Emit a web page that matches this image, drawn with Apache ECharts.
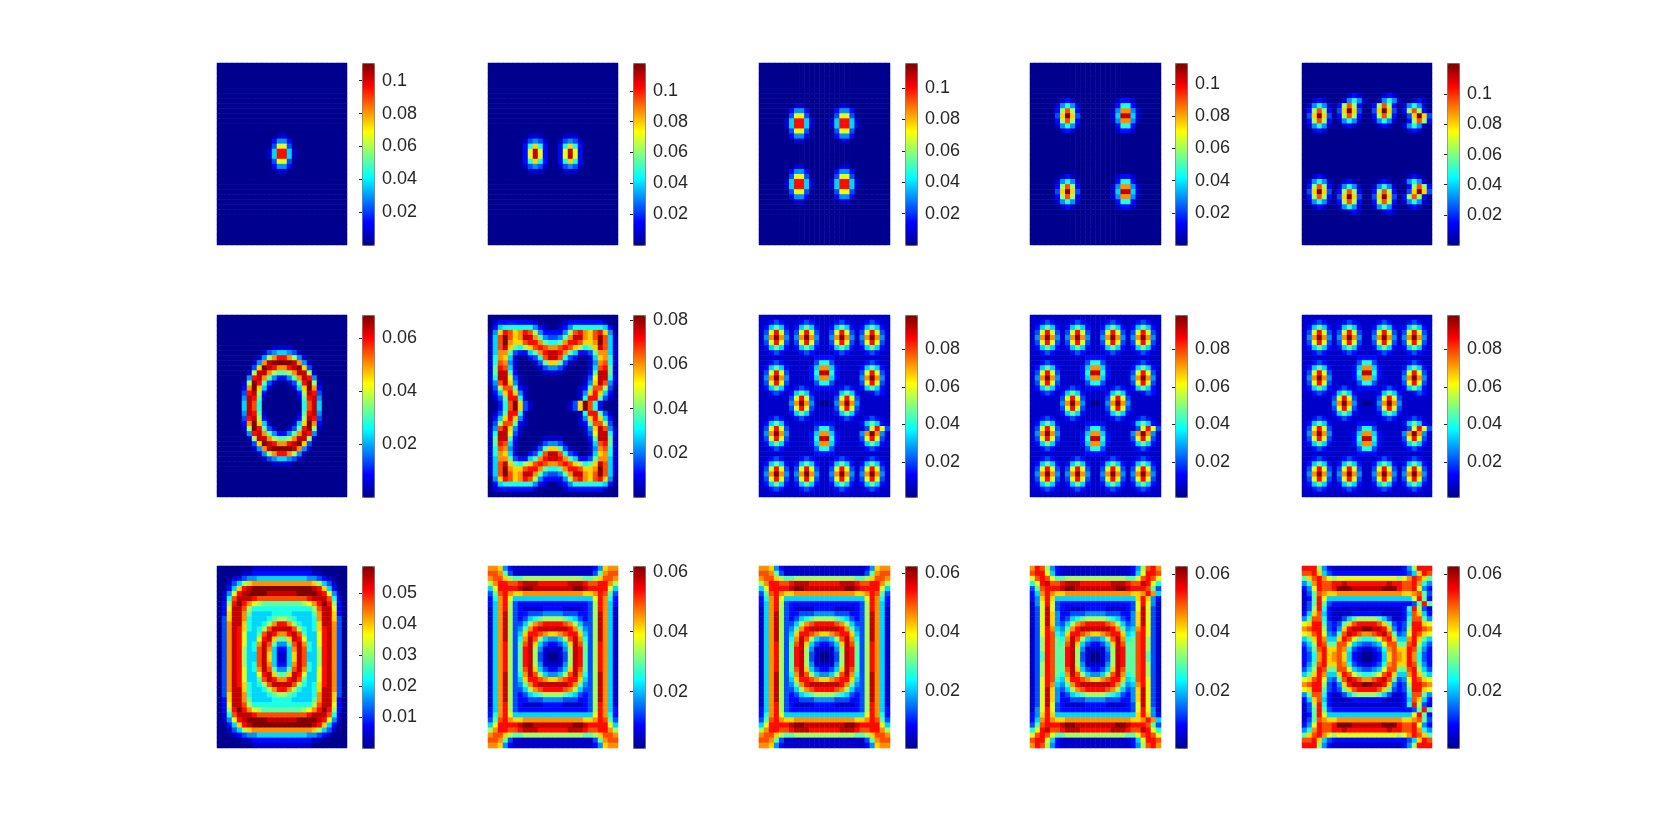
<!DOCTYPE html>
<html>
<head>
<meta charset="utf-8">
<title>Density panels</title>
<style>
  html, body { margin: 0; padding: 0; background: #fff; }
  #chart { width: 1666px; height: 840px; }
</style>
<script src="https://cdn.jsdelivr.net/npm/echarts@6/dist/echarts.min.js"></script>
</head>
<body>
<div id="chart"></div>
<script>
// every row is one line of cells, 26 cells x 36 rows.
// each character is a hex level, 0 = bottom of the panel's colorbar, f = top.
// cells missing at the end of a row are level 0.
const p11 = ['','','','','','','','','','','','','','',
  '0000000000001100','0000000000024420','0000000000039930','0000000000015dd51'.slice(1),'000000000015dd51','0000000000039930','0000000000024420','0000000000001100',
  '','','','','','','','','','','','','',''];
const p12 = ['','','','','','','','','','','','','','',
  '000000001110000111'.slice(0, 7) + '01110' + '00' + '01110',
  '0000000134310013431','0000000026a62'.slice(1) + '0026a62','000000029e920029e92','000000029e920029e92','000000026a620026a62','0000000134310013431','0000000011100001110',
  '','','','','','','','','','','','','',''];
const p13 = ['','','','','','','','',
  '00000001100000001100','00000024420000024420','00000039930000039930','0000015dd5100015dd51','0000015dd5100015dd51','00000039930000039930','00000024420000024420','00000001100000001100',
  '','','','',
  '00000001100000001100','00000024420000024420','00000039930000039930','0000015dd5100015dd51','0000015dd5100015dd51','00000039930000039930','00000024420000024420','00000001100000001100',
  '','','','','','','',''];
const p14 = ['','','','','','','',
  '0000001210000000012210','0000014641000000026620','0000028c8200000014bb41','000003afa300000015ee51','0000028c8200000014bb41','0000014641000000026620','0000001210000000012210',
  '','','','','','','','',
  '0000001210000000012210','0000014641000000026620','0000028c8200000014bb41','000003afa300000015ee51','0000028c8200000014bb41','0000014641000000026620','0000001210000000012210',
  '','','','','','',''];
const p15 = ['','','','','','',
  '0000000001210000121',
  '00121000146410014641001210'.slice(0, 26),
  '01464102 8c820028c820146410'.replace(' ', '').slice(0, 26),
  '028c8203afa3003afa3028c820',
  '03afa3028c820028c82003afa3',
  '028c8201464100146410028c82',
  '0146410012100001210014641',
  '0012100000000000000001210',
  '','','','','','','','',
  '0012100000000000000001210',
  '0146410012100001210014641',
  '028c8201464100146410028c82',
  '03afa3028c820028c82003afa3',
  '028c8203afa3003afa3028c820',
  '01464102 8c820028c820146410'.replace(' ', '').slice(0, 26),
  '0012100146410014641001210',
  '0000000001210000121',
  '','','','','',''];
const p21 = ['','','','','','',
  '000000000001111',
  '00000000013455431',
  '00000000148bddb841',
  '000000014beffffeb41',
  '00000003afedbbdefa3',
  '00000018eeb8778bee81',
  '0000004deb742247bed4',
  '0000018fd73100137df81',
  '000002bfa5100 0015afb2'.replace(' ', ''),
  '000003de8200000028ed3'.replace('8200000028', '82000' + '00028'),
  '000004ed71000000 17de4'.replace(' ', ''),
  '000005ec600000000 6ce5'.replace(' ', ''),
  '000005ec600000000 6ce5'.replace(' ', ''),
  '000004ed71000000 17de4'.replace(' ', ''),
  '000003de8200000028ed3'.replace('8200000028', '82000' + '00028'),
  '000002bfa5100 0015afb2'.replace(' ', ''),
  '0000018fd73100137df81',
  '0000004deb742247bed4',
  '00000018eeb8778bee81',
  '00000003afedbbdefa3',
  '000000014beffffeb41',
  '00000000148bddb841',
  '00000000013455431',
  '000000000001111',
  '','','','','',''];
const p22 = ['',
  '01222222210000012222222 10'.replace(' ', ''),
  '02566666642100124666666520',
  '04adcabdc84222248cdbacda40',
  '15cfcabeeb743347beebacfc51',
  '15cfbaacddb7667bddcaabfc51',
  '15cea768acdcbbcdca867aec51',
  '15bb732257bdeedb752237bb51',
  '16ba5100236ceec6320015ab61',
  '16cb41000137aa73100014bc61',
  '17dc510000134431000015cd71',
  '17ee720000011110000027ee71',
  '16ee931000000000000139ee61',
  '14cea4100000000000014aec41',
  '038cc7210000000000127cc830',
  '025ada410000000000014ada520'.slice(0, 13) + '0000014ada520',
  '0137dd61000000000016dd7310',
  '0026cfa31000000013afc62 00'.replace(' ', ''),
  '0026cfa31000000013afc62 00'.replace(' ', ''),
  '0137dd61000000000016dd7310',
  '025ada410000000000014ada520'.slice(0, 13) + '0000014ada520',
  '038cc7210000000000127cc830',
  '14cea4100000000000014aec41',
  '16ee931000000000000139ee61',
  '17ee720000011110000027ee71',
  '17dc510000134431000015cd71',
  '16cb41000137aa73100014bc61',
  '16ba5100236ceec6320015ab61',
  '15bb732257bdeedb752237bb51',
  '15cea768acdcbbcdca867aec51',
  '15cfbaacddb7667bddcaabfc51',
  '15cfcabeeb743347beebacfc51',
  '04adcabdc84222248cdbacda40',
  '02566666642100124666666520',
  '01222222210000012222222 10'.replace(' ', ''),
  ''];
const p23 = [
  '11111111111111111111111111',
  '11232111232111123211123211',
  '12575212575211257521257521',
  '139d93139d931139d93139d931',
  '14bfb414bfb4114bfb414bfb41'.replace('14bfb414bfb4114bfb414bfb41', '14bfb414bfb41' + '14bfb414bfb41'),
  '139d93139d931139d93139d931',
  '12575212575211257521257521',
  '11232111232111123211123211',
  '11111111111222211111111111',
  '11232111111366311111123211',
  '12575211112 5bb5211112 57521'.replace(/ /g, '').slice(0, 26),
  '139d9311112 6ee6211113 9d931'.replace(/ /g, '').slice(0, 26),
  '14bfb411112 5bb5211114 bfb41'.replace(/ /g, '').slice(0, 26),
  '139d9311111366311111 39d931'.replace(/ /g, '').slice(0, 26),
  '12575212321222212321257521',
  '11232125752111125752112321',
  '11111139d9311 1139d931111111'.replace(/ /g, '').slice(0, 26),
  '111111 4bfb41001 4bfb4111111'.replace(/ /g, '').slice(0, 26),
  '11111139d9311 1139d931111111'.replace(/ /g, '').slice(0, 26),
  '11111125752111125752111111',
  '11232112321111112321123211',
  '12575211111222211111257521',
  '139d9311111366311111139d93'.slice(0, 26),
  '14bfb41111 25bb521111 4bfb41'.replace(/ /g, '').slice(0, 26),
  '139d9311112 6ee6211113 9d931'.replace(/ /g, '').slice(0, 26),
  '12575211112 5bb5211112 57521'.replace(/ /g, '').slice(0, 26),
  '11232111111366311111123211',
  '11111111111222211111111111',
  '11232111232111123211123211',
  '12575212575211257521257521',
  '139d93139d931139d93139d931',
  '14bfb414bfb41' + '14bfb414bfb41',
  '139d93139d931139d93139d931',
  '12575212575211257521257521',
  '11232111232111123211123211',
  '11111111111111111111111111'];
const p24 = p23;
const p25 = p23;
const p31 = [
  '00000001111111111110000000','00000112222222222221100000','00012344555555555544321000','001358abbbbbbbbbbbba853100',
  '0025adeffffffffffffeda5200','0149deffffeeeeeeffffed9410','016ceeedccccccccccdeeec610','028dfdb987777777789bdfd820',
  '029eec86666666666668cee920','02aeeb75555666655557beea20','03aeeb65556788765556beea30','03beea65568bddb86556aeeb30',
  '03beda6568ceeeec8656adeb30','03bed9557cedbbdec7559deb30','03bed9559dea77aed9559deb30','03bed956bec7447ceb659deb30',
  '03bed856ceb5225bec658deb30','03bed855cea5115aec558deb30','03bed855cea5115aec558deb30','03bed856ceb5225bec658deb30',
  '03bed956bec7447ceb659deb30','03bed9559dea77aed9559deb30','03bed9557cedbbdec7559deb30','03beda6568ceeeec8656adeb30',
  '03beea65568bddb86556aeeb30','03aeeb65556788765556beea30','02aeeb75555666655557beea20','029eec86666666666668cee920',
  '028dfdb987777777789bdfd820','016ceeedccccccccccdeeec610','0149deffffeeeeeeffffed9410','0025adeffffffffffffeda5200',
  '001358abbbbbbbbbbbba853100','00012344555555555544321000','00000112222222222221100000','00000001111111111110000000'];
const p32 = [
  'bba42111111111111111124abb','ccb73111111111111111137bcc','bcca877888888888888778accb','8bddccdeeeddddddeeedccddb8',
  '59ddddeffeeeeeeeeffedddd95','37cdbaabbbbbbbbbbbbbaabdc73'.slice(0, 13) + 'bbbbbbaabdc73','26bd955555555555555559db62','25bd832222222222222238db52',
  '15bd832111122221111238db51','15be832233344443332238eb51','15be832356788887653238eb51','15be83358bcddddcb85338eb51',
  '15be8347bdeeeeedb7438eb51'.slice(0, 13) + 'eeedb7438eb51','15be835addcbaabcdda538eb51','15be836bec854458ceb638eb51','15bd837cea532235aec738db51',
  '15bd837de84111148ed738db51','15bd837de83100138ed738db51','15bd837de83100138ed738db51','15bd837de84111148ed738db51',
  '15bd837cea532235aec738db51','15be836bec854458ceb638eb51','15be835addcbaabcdda538eb51','15be8347bdeee' + 'eeedb7438eb51',
  '15be83358bcddddcb85338eb51','15be832356788887653238eb51','15be832233344443332238eb51','15bd832111122221111238db51',
  '25bd832222222222222238db52','26bd955555555555555559db62','37cdbaabbbbbb' + 'bbbbbbaabdc73','59ddddeffeeeeeeeeffedddd95',
  '8bddccdeeeddddddeeedccddb8','bcca877888888888888778accb','ccb73111111111111111137bcc','bba42111111111111111124abb'];
const p33 = p32;
const p34 = [
  'bdc84211111111111111248cdb','cdd95211111111111111259ddc','9cdc977888888888888779cdc9','69deccdeeeddddddeeedcced96',
  '37cdddeffeeeeeeeeffedddc73','25bdbaabbbbbbbbbbbbbaabdb52','24ada5555555555555555ada42','149d93222222222222239d941'.slice(0, 13) + '222222239d941',
  '139e932111122221111239e931','139ea4223334444333224ae931','139ea4235678888765324ae931','139ea4358bcddddcb8534ae931',
  '139db547bdeeeeeedb745bd931','139dc65addcbaabcdda56cd931','138dc76bec854458ceb67cd831','138dc77cea532235aec77cd831',
  '138dc77de84111148ed77cd831','137dc77de83100138ed77cd731','137dc77de83100138ed77cd731','138dc77de84111148ed77cd831',
  '138dc77cea532235aec77cd831','138dc76bec854458ceb67cd831','139dc65addcbaabcdda56cd931','139db547bdeeeeeedb745bd931',
  '139ea4358bcddddcb8534ae931','139ea4235678888765324ae931','139ea4223334444333224ae931','139e932111122221111239e931',
  '149d93222222222222 2239d941'.replace(' ', '').slice(0, 13) + '222222239d941','24ada5555555555555555ada42','25bdbaabbbbbbbbbbbbbaabdb52','37cdddeffeeeeeeeeffedddc73',
  '69deccdeeeddddddeeedcced96','9cdc977888888888888779cdc9','cdd95211111111111111259ddc','bdc84211111111111111248cdb'];
const p35 = [
  'ddd84211111111111111248ddd','ccda5322222222222222235adcc','7acdb9899999999999989bdca7','46bdccddeddddddddeddccdb64',
  '249dccdfffeeeeeefffdccd942','137cbaabbbbbbbbbbbbbaabc731','127d9555555555555555559d721','137d73222222222222222237d731',
  '138d621111111111111126d831','25ac521111222222111125ca52','47cc621135788887531126cc74','9add73237acddddca73237dda9',
  'bcdd8324adeeffeeda4238ddcb','9acd9437cedcbbcdec7349dca9','57adb55adc976679cda55bda75','358dc77cc95433459cc77cd853',
  '247cdaacb63211236bcaadc742','236bdabca52100125acbadb632','236bdabca52100125acbadb632','247cdaacb63211236bcaadc742',
  '358dc77cc95433459cc77cd853','57adb55adc976679cda55bda75','9acd9437cedcbbcdec7349dca9','bcdd8324adeeffeeda4238ddcb',
  '9add73237acddddca73237dda9','47cc621135788887531126cc74','25ac521111222222111125ca52','138d621111111111111126d831',
  '137d73222222222222222237d731','127d9555555555555555559d721','137cbaabbbbbbbbbbbbbaabc731','249dccdfffeeeeeefffdccd942',
  '46bdccddeddddddddeddccdb64','7acdb9899999999999989bdca7','ccda5322222222222222235adcc','ddd84211111111111111248ddd'];

const panels = [p11, p12, p13, p14, p15, p21, p22, p23, p24, p25, p31, p32, p33, p34, p35];

// colorbar ends and tick labels, panel by panel
const barMin = [0, 0, 0, 0, 0, 0, 0, 0.0012, 0.0012, 0.0012, 0, 0.0012, 0.0007, 0.0006, 0.0006];
const barMax = [0.1108, 0.118, 0.116, 0.113, 0.1208, 0.0686, 0.0823, 0.0984, 0.0984, 0.0984, 0.0589, 0.0619, 0.0625, 0.0627, 0.0627];
const barTicks = [
  [0.02, 0.04, 0.06, 0.08, 0.1], [0.02, 0.04, 0.06, 0.08, 0.1], [0.02, 0.04, 0.06, 0.08, 0.1], [0.02, 0.04, 0.06, 0.08, 0.1], [0.02, 0.04, 0.06, 0.08, 0.1],
  [0.02, 0.04, 0.06], [0.02, 0.04, 0.06, 0.08], [0.02, 0.04, 0.06, 0.08], [0.02, 0.04, 0.06, 0.08], [0.02, 0.04, 0.06, 0.08],
  [0.01, 0.02, 0.03, 0.04, 0.05], [0.02, 0.04, 0.06], [0.02, 0.04, 0.06], [0.02, 0.04, 0.06], [0.02, 0.04, 0.06]
];

const colLeft = [217, 488, 759, 1030, 1302];
const colWidth = [130, 130, 131, 131, 130];
const barLeft = [362, 633, 905, 1175, 1447];
const rowTop = [63, 315, 566];
const panelHeight = 182;
const barWidth = 12;
const jet = ['#00008f', '#0000ff', '#0080ff', '#00ffff', '#80ff80', '#ffff00', '#ff8000', '#ff0000', '#800000'];

const xCells = [], yCells = [];
for (let i = 0; i < 26; i++) xCells.push(i);
for (let i = 0; i < 36; i++) yCells.push(i);

let grid = [], xAxis = [], yAxis = [], series = [], visualMap = [];

panels.forEach((rows, k) => {
  let c = k % 5, r = Math.floor(k / 5);
  let lo = barMin[k], hi = barMax[k];
  let data = [];
  rows.forEach((row, y) => {
    xCells.forEach(x => {
      let level = parseInt(row[x] || '0', 16);
      data.push([x, y, lo + level / 15 * (hi - lo)]);
    });
  });
  // heatmap grid
  grid.push({left: colLeft[c], top: rowTop[r], width: colWidth[c], height: panelHeight});
  xAxis.push({type: 'category', gridIndex: 2 * k, data: xCells, show: false});
  yAxis.push({type: 'category', gridIndex: 2 * k, data: yCells, inverse: true, show: false});
  series.push({
    type: 'heatmap', xAxisIndex: 2 * k, yAxisIndex: 2 * k, data: data,
    progressive: 0, emphasis: {disabled: true}
  });
  // colorbar grid, only carries the ticks and labels
  grid.push({left: barLeft[c], top: rowTop[r], width: barWidth, height: panelHeight});
  xAxis.push({type: 'value', gridIndex: 2 * k + 1, show: false});
  yAxis.push({
    type: 'value', gridIndex: 2 * k + 1, position: 'right', min: lo, max: hi, z: 10,
    splitLine: {show: false}, axisLine: {show: false},
    axisTick: {show: true, inside: true, length: 3, lineStyle: {color: '#262626'}, customValues: barTicks[k]},
    axisLabel: {
      show: true, margin: 8, fontSize: 18, color: '#262626', fontFamily: '"Liberation Sans", Arial, sans-serif',
      customValues: barTicks[k], formatter: v => String(v)
    }
  });
  series.push({type: 'scatter', xAxisIndex: 2 * k + 1, yAxisIndex: 2 * k + 1, data: [], silent: true});
  visualMap.push({
    type: 'continuous', seriesIndex: 2 * k, min: lo, max: hi, calculable: false, hoverLink: false,
    left: barLeft[c], top: rowTop[r], itemWidth: barWidth, itemHeight: panelHeight, padding: 0,
    borderColor: '#6e6e6e', borderWidth: 1, text: null, showLabel: false,
    inRange: {color: jet}, textStyle: {fontSize: 0}
  });
});

let chart = echarts.init(document.getElementById('chart'));
chart.setOption({
  backgroundColor: '#fff',
  animation: false,
  tooltip: {show: false},
  grid: grid,
  xAxis: xAxis,
  yAxis: yAxis,
  visualMap: visualMap,
  series: series
});
</script>
</body>
</html>
